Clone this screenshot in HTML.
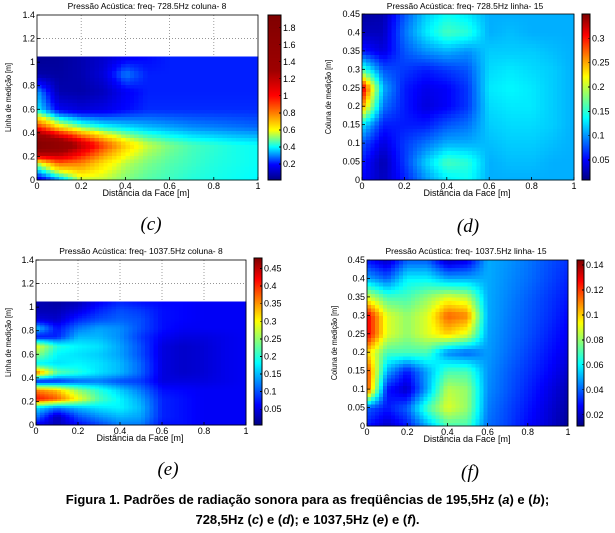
<!DOCTYPE html>
<html><head><meta charset="utf-8"><style>
body{margin:0;background:#fff;width:615px;height:533px;overflow:hidden}
svg{display:block}
.sans{font-family:"Liberation Sans",Arial,sans-serif}
.cap{font-family:"Liberation Sans",Arial,sans-serif;font-weight:bold;font-size:13px;position:absolute;left:0;width:615px;text-align:center;line-height:20px}
</style></head><body>
<svg id="fig" width="615" height="533" xmlns="http://www.w3.org/2000/svg"></svg>
<div class="cap" style="top:490px">Figura 1. Padrões de radiação sonora para as freqüências de 195,5Hz (<i>a</i>) e (<i>b</i>);<br>728,5Hz (<i>c</i>) e (<i>d</i>); e 1037,5Hz (<i>e</i>) e (<i>f</i>).</div>
<script>
// ---- data ----
const xCols = [0,0.1,0.2,0.3,0.4,0.5,0.6,0.7,0.8,0.9,1];
const cRows = [0,0.15,0.3,0.45,0.6,0.75,0.9,1.05];
const cVals = [
[0.12,0.3,0.55,0.55,0.5,0.47,0.45,0.43,0.42,0.41,0.4],
[0.55,0.85,0.8,0.65,0.55,0.5,0.47,0.45,0.43,0.42,0.41],
[1.9,1.6,1.2,0.9,0.68,0.56,0.5,0.46,0.44,0.42,0.41],
[0.95,0.65,0.5,0.42,0.38,0.35,0.33,0.31,0.3,0.29,0.28],
[0.4,0.18,0.14,0.16,0.2,0.23,0.23,0.23,0.23,0.23,0.23],
[0.33,0.08,0.07,0.1,0.18,0.22,0.22,0.22,0.22,0.22,0.22],
[0.07,0.06,0.08,0.14,0.3,0.22,0.22,0.22,0.22,0.22,0.22],
[0.04,0.05,0.08,0.12,0.17,0.2,0.22,0.22,0.22,0.22,0.22]];
const dRows = [0,0.05,0.1,0.15,0.2,0.25,0.3,0.35,0.4,0.45];
const dVals = [
[0.05,0.03,0.06,0.1,0.13,0.14,0.11,0.11,0.11,0.11,0.11],
[0.06,0.025,0.07,0.12,0.16,0.15,0.11,0.115,0.115,0.11,0.11],
[0.08,0.04,0.07,0.09,0.11,0.11,0.115,0.12,0.12,0.115,0.11],
[0.13,0.06,0.06,0.06,0.08,0.09,0.12,0.125,0.125,0.12,0.11],
[0.26,0.09,0.06,0.04,0.05,0.07,0.125,0.13,0.13,0.12,0.11],
[0.33,0.11,0.06,0.045,0.05,0.07,0.13,0.135,0.13,0.12,0.11],
[0.16,0.08,0.07,0.06,0.07,0.08,0.125,0.13,0.125,0.12,0.11],
[0.06,0.04,0.08,0.1,0.11,0.1,0.12,0.12,0.12,0.115,0.11],
[0.03,0.03,0.09,0.13,0.16,0.15,0.11,0.115,0.11,0.11,0.11],
[0.02,0.025,0.08,0.12,0.14,0.13,0.11,0.11,0.11,0.11,0.11]];
const eRows = [0,0.075,0.15,0.225,0.3,0.375,0.45,0.525,0.6,0.675,0.75,0.825,0.9,0.975,1.05];
const eVals = [
[0.05,0.03,0.06,0.09,0.12,0.12,0.07,0.07,0.06,0.06,0.06],
[0.12,0.03,0.1,0.13,0.15,0.14,0.08,0.07,0.06,0.06,0.06],
[0.17,0.12,0.15,0.17,0.18,0.15,0.08,0.07,0.06,0.06,0.06],
[0.42,0.38,0.3,0.22,0.18,0.14,0.08,0.07,0.06,0.06,0.06],
[0.36,0.33,0.25,0.2,0.16,0.12,0.07,0.065,0.06,0.06,0.06],
[0.07,0.08,0.11,0.12,0.1,0.09,0.05,0.05,0.05,0.055,0.06],
[0.38,0.23,0.2,0.17,0.15,0.11,0.05,0.04,0.045,0.055,0.06],
[0.18,0.17,0.18,0.17,0.15,0.11,0.05,0.04,0.045,0.055,0.06],
[0.25,0.18,0.17,0.16,0.14,0.1,0.05,0.04,0.045,0.055,0.06],
[0.3,0.2,0.18,0.17,0.14,0.1,0.05,0.04,0.045,0.055,0.06],
[0.07,0.08,0.15,0.15,0.13,0.09,0.06,0.05,0.05,0.055,0.06],
[0.16,0.07,0.12,0.14,0.13,0.1,0.07,0.06,0.06,0.06,0.06],
[0.05,0.04,0.08,0.1,0.11,0.1,0.07,0.065,0.06,0.06,0.06],
[0.03,0.03,0.05,0.08,0.1,0.09,0.07,0.065,0.06,0.06,0.06],
[0.03,0.02,0.03,0.06,0.08,0.07,0.065,0.065,0.06,0.06,0.06]];
const fRows = [0,0.05,0.1,0.15,0.2,0.25,0.3,0.35,0.4,0.45];
const fVals = [
[0.03,0.02,0.03,0.05,0.07,0.07,0.042,0.036,0.028,0.022,0.014],
[0.04,0.03,0.04,0.07,0.09,0.08,0.044,0.037,0.03,0.023,0.016],
[0.12,0.03,0.02,0.05,0.085,0.08,0.046,0.039,0.032,0.025,0.018],
[0.12,0.05,0.03,0.05,0.07,0.07,0.047,0.04,0.034,0.028,0.021],
[0.1,0.07,0.07,0.07,0.045,0.04,0.048,0.042,0.036,0.03,0.024],
[0.13,0.09,0.08,0.09,0.1,0.09,0.049,0.043,0.038,0.032,0.026],
[0.13,0.09,0.08,0.09,0.115,0.11,0.05,0.044,0.039,0.034,0.028],
[0.09,0.07,0.07,0.08,0.09,0.085,0.05,0.045,0.04,0.035,0.03],
[0.05,0.04,0.06,0.06,0.05,0.05,0.05,0.046,0.042,0.037,0.032],
[0.03,0.02,0.04,0.04,0.02,0.025,0.05,0.047,0.043,0.038,0.034]];
const xTicks = [0,0.2,0.4,0.6,0.8,1];
const yTicksTall = [0,0.2,0.4,0.6,0.8,1,1.2,1.4];
const yTicksShort = [0,0.05,0.1,0.15,0.2,0.25,0.3,0.35,0.4,0.45];
const cbTicksC = [0.2,0.4,0.6,0.8,1,1.2,1.4,1.6,1.8];
const cbTicksD = [0.05,0.1,0.15,0.2,0.25,0.3];
const cbTicksE = [0.05,0.1,0.15,0.2,0.25,0.3,0.35,0.4,0.45];
const cbTicksF = [0.02,0.04,0.06,0.08,0.1,0.12,0.14];

const NS="http://www.w3.org/2000/svg";
const svg=document.getElementById('fig');
function mk(tag,attrs,parent,txt){const e=document.createElementNS(NS,tag);for(const k in attrs)e.setAttribute(k,attrs[k]);if(txt!==undefined)e.textContent=txt;(parent||svg).appendChild(e);return e;}
function clamp(v){return Math.max(0,Math.min(1,v));}
function jet(t){t=clamp(t);const r=clamp(1.5-Math.abs(4*t-3)),g=clamp(1.5-Math.abs(4*t-2)),b=clamp(1.5-Math.abs(4*t-1));return `rgb(${Math.round(r*255)},${Math.round(g*255)},${Math.round(b*255)})`;}
function interp(v,xs,ys){if(v<=xs[0])return ys[0];for(let i=1;i<xs.length;i++){if(v<=xs[i])return ys[i-1]+(ys[i]-ys[i-1])*(v-xs[i-1])/(xs[i]-xs[i-1]);}return ys[ys.length-1];}
function fmt(v){return String(+v.toFixed(3));}
const SANS='font-family:"Liberation Sans",Arial,sans-serif';

function panel(p){
  const g=mk('g',{style:SANS});
  
  
  const sx=v=>p.L+(p.R-p.L)*v;
  const sy=v=>p.B-(p.B-p.T)*v/p.ymax;
  const col=v=>jet(interp(v,p.sv,p.st));
  xTicks.forEach(t=>{if(t>0&&t<1){const l=mk('line',{x1:sx(t),x2:sx(t),y1:p.T,y2:p.B,stroke:'#888','stroke-width':0.8,'stroke-dasharray':'1,2'},g);}});
  p.yt.forEach(t=>{if(t>0&&t<p.ymax){const l=mk('line',{x1:p.L,x2:p.R,y1:sy(t),y2:sy(t),stroke:'#888','stroke-width':0.8,'stroke-dasharray':'1,2'},g);}});
  const hm=mk('g',{'shape-rendering':'crispEdges'},g);
  
  
  const S=5, rows=p.rows, V=p.vals;
  for(let j=0;j<rows.length-1;j++)for(let i=0;i<xCols.length-1;i++){
    for(let a=0;a<S;a++)for(let b=0;b<S;b++){
      const u=(a+0.5)/S,w=(b+0.5)/S;
      const v=V[j][i]*(1-u)*(1-w)+V[j][i+1]*u*(1-w)+V[j+1][i]*(1-u)*w+V[j+1][i+1]*u*w;
      const x0=xCols[i]+(xCols[i+1]-xCols[i])*a/S, x1=xCols[i]+(xCols[i+1]-xCols[i])*(a+1)/S;
      const y0=rows[j]+(rows[j+1]-rows[j])*b/S, y1=rows[j]+(rows[j+1]-rows[j])*(b+1)/S;
      const r=mk('rect',{x:sx(x0),y:sy(y1),width:sx(x1)-sx(x0)+0.6,height:sy(y0)-sy(y1)+0.6,fill:col(v)},hm);
      
      
    }
  }
  const bx=mk('rect',{x:p.L,y:p.T,width:p.R-p.L,height:p.B-p.T,fill:'none',stroke:'#000','stroke-width':0.8},g);
  
  xTicks.forEach(t=>{mk('line',{x1:sx(t),x2:sx(t),y1:p.B,y2:p.B-3,stroke:'#000','stroke-width':0.8},g);
    const tx=mk('text',{x:sx(t),y:p.B+9,'font-size':9,'text-anchor':'middle'},g,fmt(t));
    });
  p.yt.forEach(t=>{mk('line',{x1:p.L,x2:p.L+3,y1:sy(t),y2:sy(t),stroke:'#000','stroke-width':0.8},g);
    const tx=mk('text',{x:p.L-2,y:sy(t)+3,'font-size':9,'text-anchor':'end'},g,fmt(t));
    });
  const ti=mk('text',{x:p.tx,y:p.ty,'font-size':8.5,'text-anchor':'middle'},g,p.title);
  
  const xl=mk('text',{x:p.xlx,y:p.B+16,'font-size':9,'text-anchor':'middle'},g,'Distância da Face [m]');
  
  const yl=mk('text',{x:0,y:0,'font-size':8.5,'text-anchor':'middle',transform:`translate(${p.ylx},${(p.T+p.B)/2}) rotate(-90) scale(0.85,1)`},g,p.ylabel);
  
  const cb=mk('g',{'shape-rendering':'crispEdges'},g);
  
  const H=p.cbB-p.cbT, lo=p.sv[0], hi=p.sv[p.sv.length-1];
  for(let k=0;k<H;k++){const v=lo+(hi-lo)*(k+0.5)/H;mk('rect',{x:p.cbL,y:p.cbB-k-1,width:p.cbR-p.cbL,height:1.3,fill:col(v)},cb);}
  mk('rect',{x:p.cbL,y:p.cbT,width:p.cbR-p.cbL,height:H,fill:'none',stroke:'#000','stroke-width':0.8},cb);
  p.cbt.forEach(t=>{const y=p.cbB-H*(t-lo)/(hi-lo);
    mk('line',{x1:p.cbR,x2:p.cbR-2,y1:y,y2:y,stroke:'#000','stroke-width':0.8},cb);
    const tx=mk('text',{x:p.cbR+2,y:y+3,'font-size':9},cb,fmt(t));
    });
  const lt=mk('text',{x:p.lx,y:p.ly,'font-size':19,'text-anchor':'middle',style:'font-family:"Liberation Serif",serif;font-style:italic'},g,p.letter);
  
}
const yC='Linha de medição [m]', yD='Coluna de medição [m]';
panel({name:'panel-c',L:37,R:258,T:15,B:180,ymax:1.4,yt:yTicksTall,rows:cRows,vals:cVals,
 sv:[0.011,0.2,0.4,0.6,0.8,1.0,1.3,1.95],st:[0,0.13,0.37,0.62,0.75,0.87,0.97,1],cbt:cbTicksC,
 cbL:268,cbR:281,cbT:15,cbB:180,title:'Pressão Acústica: freq- 728.5Hz coluna- 8',tx:147,ty:9,xlx:146,ylx:11,ylabel:yC,letter:'(c)',lx:151,ly:230});
panel({name:'panel-d',L:362,R:574,T:14,B:180,ymax:0.45,yt:yTicksShort,rows:dRows,vals:dVals,
 sv:[0.009,0.35],st:[0,1],cbt:cbTicksD,cbL:582,cbR:590,cbT:14,cbB:180,
 title:'Pressão Acústica: freq- 728.5Hz linha- 15',tx:465,ty:9,xlx:467,ylx:331,ylabel:yD,letter:'(d)',lx:468,ly:232});
panel({name:'panel-e',L:36,R:246,T:260,B:425,ymax:1.4,yt:yTicksTall,rows:eRows,vals:eVals,
 sv:[0.005,0.48],st:[0,1],cbt:cbTicksE,cbL:254,cbR:262,cbT:258,cbB:425,
 title:'Pressão Acústica: freq- 1037.5Hz coluna- 8',tx:141,ty:254,xlx:140,ylx:11,ylabel:yC,letter:'(e)',lx:168,ly:475});
panel({name:'panel-f',L:367,R:568,T:260,B:426,ymax:0.45,yt:yTicksShort,rows:fRows,vals:fVals,
 sv:[0.011,0.144],st:[0,1],cbt:cbTicksF,cbL:577,cbR:584,cbT:260,cbB:426,
 title:'Pressão Acústica: freq- 1037.5Hz linha- 15',tx:466,ty:254,xlx:467,ylx:337,ylabel:yD,letter:'(f)',lx:470,ly:478});
</script>
</body></html>
